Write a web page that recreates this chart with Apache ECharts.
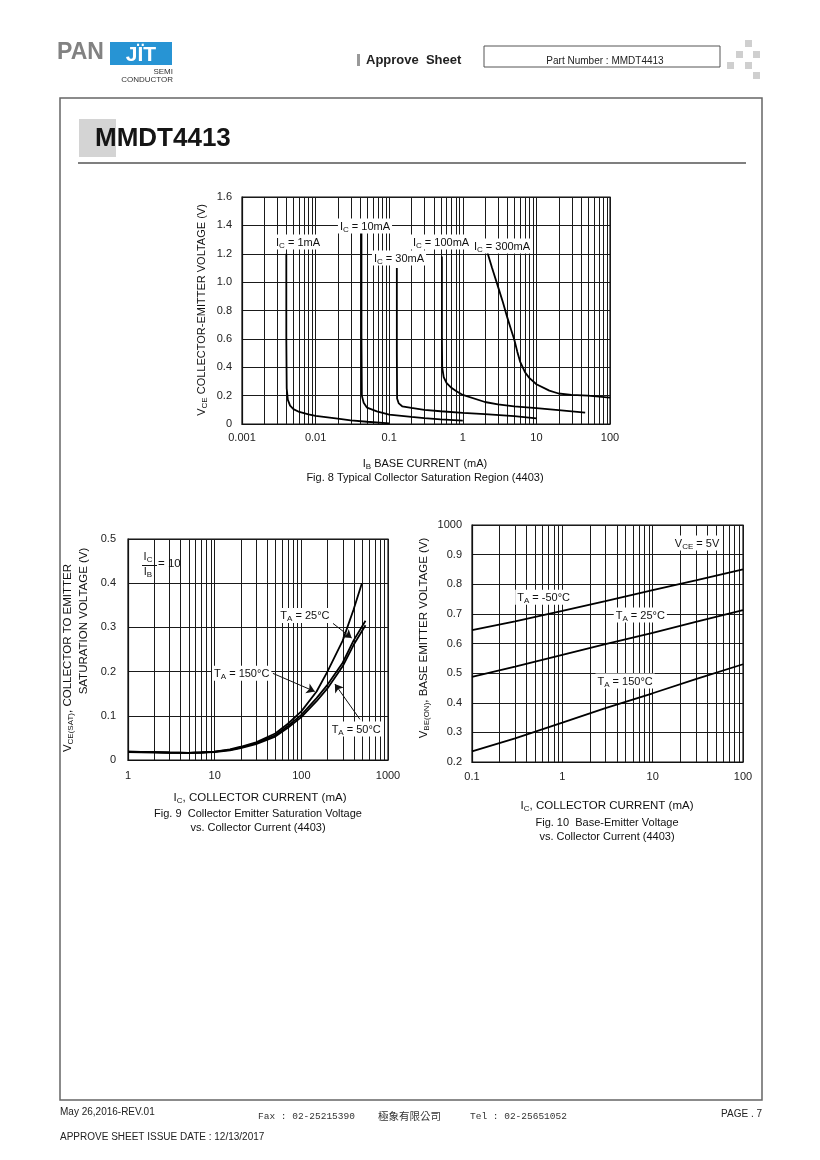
<!DOCTYPE html>
<html><head><meta charset="utf-8">
<script src="https://cdn.jsdelivr.net/npm/echarts@6/dist/echarts.min.js"></script>
<style>html,body{margin:0;padding:0;background:#fff}#c{width:820px;height:1160px}</style>
</head><body><div id="c"></div>
<script>
// ---------------- DATA ----------------
// Fig. 8  VCE vs IB  (x: IB mA, y: VCE V)
const fig8XLabels = ['0.001','0.01','0.1','1','10','100'];
const fig8YLabels = ['0','0.2','0.4','0.6','0.8','1.0','1.2','1.4','1.6'];
const ic1mA   = [[0.004,1.2],[0.004,0.6],[0.00405,0.25],[0.0042,0.17],[0.0045,0.13],[0.005,0.105],[0.006,0.085],[0.008,0.068],[0.01,0.058],[0.02,0.038],[0.03,0.026],[0.05,0.016],[0.1,0.005]];
const ic10mA  = [[0.042,1.38],[0.042,0.6],[0.0425,0.2],[0.045,0.15],[0.05,0.115],[0.068,0.089],[0.1,0.066],[0.2,0.05],[0.3,0.042],[0.5,0.032],[1,0.024]];
const ic30mA  = [[0.127,1.1],[0.127,0.5],[0.128,0.18],[0.135,0.145],[0.15,0.125],[0.2,0.113],[0.3,0.1],[0.5,0.09],[1,0.078],[2,0.07],[5,0.055],[10,0.04]];
const ic100mA = [[0.52,1.18],[0.52,0.6],[0.525,0.4],[0.55,0.33],[0.6,0.29],[0.7,0.255],[0.8,0.235],[1,0.205],[2,0.155],[3,0.138],[5,0.124],[10,0.112],[20,0.098],[46,0.08]];
const ic300mA = [[2.1,1.23],[2.5,1.1],[3,0.97],[3.5,0.86],[4,0.755],[4.5,0.67],[5,0.595],[5.5,0.51],[6,0.44],[7,0.365],[8,0.325],[10,0.28],[15,0.235],[20,0.215],[30,0.205],[50,0.2],[100,0.186]];
const fig8Labels = [
  {name:'1mA',   at:[0.00577,1.283]},
  {name:'10mA',  at:[0.0469,1.395]},
  {name:'30mA',  at:[0.136,1.17]},
  {name:'100mA', at:[0.506,1.283]},
  {name:'300mA', at:[3.41,1.254]}
];

// Fig. 9  VCE(SAT) vs IC  (x: IC mA, y: V)
const fig9XLabels = ['1','10','100','1000'];
const fig9YLabels = ['0','0.1','0.2','0.3','0.4','0.5'];
const vsat150 = [[1,0.019],[2,0.018],[3,0.017],[5,0.016],[7,0.017],[10,0.019],[15,0.024],[20,0.03],[30,0.04],[50,0.06],[70,0.082],[100,0.11],[150,0.155],[200,0.2],[300,0.27],[400,0.34],[500,0.4]];
const vsat25  = [[1,0.019],[2,0.018],[3,0.017],[5,0.016],[7,0.017],[10,0.019],[15,0.023],[20,0.028],[30,0.038],[50,0.056],[70,0.077],[100,0.102],[150,0.14],[200,0.17],[300,0.22],[400,0.27],[550,0.315]];
const vsatM50 = [[1,0.018],[2,0.017],[3,0.016],[5,0.016],[7,0.017],[10,0.018],[15,0.022],[20,0.027],[30,0.036],[50,0.053],[70,0.073],[100,0.097],[150,0.133],[200,0.162],[300,0.212],[400,0.26],[550,0.305]];
const fig9Labels = [
  {temp:'25°C',  at:[110,0.327]},
  {temp:'150°C', at:[20.5,0.196]},
  {temp:'50°C',  at:[430,0.07]}
];
const fig9Arrows = [
  [[232,0.309],[381,0.276]],
  [[47,0.196],[143,0.155]],
  [[474,0.092],[244,0.172]]
];

// Fig. 10  VBE(ON) vs IC  (x: IC mA, y: V)
const fig10XLabels = ['0.1','1','10','100'];
const fig10YLabels = ['0.2','0.3','0.4','0.5','0.6','0.7','0.8','0.9','1000'];
const vbeM50 = [[0.1,0.645],[0.3,0.675],[1,0.71],[3,0.743],[10,0.78],[30,0.813],[100,0.85]];
const vbe25  = [[0.1,0.487],[0.3,0.522],[1,0.562],[3,0.598],[10,0.636],[30,0.673],[100,0.713]];
const vbe150 = [[0.1,0.236],[0.3,0.28],[1,0.333],[3,0.382],[10,0.432],[30,0.48],[100,0.53]];
const fig10Labels = [
  {pre:'T', sub:'A', post:' = -50°C', at:[0.62,0.756]},
  {pre:'T', sub:'A', post:' = 25°C',  at:[7.3,0.696]},
  {pre:'T', sub:'A', post:' = 150°C', at:[4.95,0.473]},
  {pre:'V', sub:'CE', post:' = 5V',   at:[31,0.939]}
];

// ---------------- HELPERS ----------------
const FONT = '"Liberation Sans", Arial, sans-serif';
function sub(pre, s, post){ return '{t|' + pre + '}{s|' + s + '}{t|' + post + '}'; }
function richFor(size){
  return {
    t:{fontSize:size, fontFamily:FONT, color:'#111'},
    s:{fontSize:Math.round(size*0.72), fontFamily:FONT, color:'#111', padding:[Math.round(size*0.55),0,0,0]}
  };
}
function minorValues(lo, hi){
  const out = [];
  for (let d = lo; d < hi*0.999; d *= 10) for (let k = 2; k <= 9; k++) out.push(+(k*d).toPrecision(3));
  return out;
}
function logLabel(arr, base){ return v => arr[Math.round(Math.log10(v) - Math.log10(base))] || ''; }
function linLabel(arr, min, step){ return v => arr[Math.round((v - min)/step)] || ''; }

const gridLine = {show:true, lineStyle:{color:'#1a1a1a', width:1}};
const axisLbl = (fmt, margin) => ({fontSize:11, fontFamily:FONT, color:'#222', formatter:fmt, margin:margin});
function xLog(gi, min, max, labels, margin){
  return {type:'log', logBase:10, gridIndex:gi, min:min, max:max,
    axisLine:{show:true, lineStyle:{color:'#111', width:1.2}}, axisTick:{show:false},
    splitLine:gridLine, axisLabel:axisLbl(logLabel(labels, min), margin)};
}
function yLin(gi, min, max, step, labels, margin){
  return {type:'value', gridIndex:gi, min:min, max:max, interval:step,
    axisLine:{show:true, lineStyle:{color:'#111', width:1.2}}, axisTick:{show:false},
    splitLine:gridLine, axisLabel:axisLbl(linLabel(labels, min, step), margin)};
}
// minor vertical grid lines (2..9 per decade) drawn through the axis scales
function minorGrid(gi, lo, hi, ymin, ymax){
  return {type:'custom', xAxisIndex:gi, yAxisIndex:gi, silent:true, z:1, clip:true,
    data: minorValues(lo, hi).map(v => [v, ymin, ymax]),
    encode:{x:0, y:[1,2]},
    renderItem:function(params, api){
      const a = api.coord([api.value(0), api.value(1)]);
      const b = api.coord([api.value(0), api.value(2)]);
      const x = Math.round(a[0]) + 0.5;
      return {type:'line', shape:{x1:x, y1:a[1], x2:x, y2:b[1]}, style:{stroke:'#1a1a1a', lineWidth:1}};
    }};
}
const curveStyle = {color:'#000', width:1.8};
function curve(gi, data, extra){
  return Object.assign({type:'line', xAxisIndex:gi, yAxisIndex:gi, data:data, showSymbol:false,
    symbol:'none', lineStyle:curveStyle, z:3, silent:true}, extra||{});
}
function labelPoints(items){
  return {symbol:'rect', symbolSize:0.1, silent:true, animation:false, z:6,
    itemStyle:{color:'rgba(0,0,0,0)'},
    data: items.map(it => ({coord:it.at, label:{show:true, position:'inside', formatter:it.text,
      backgroundColor:'#fff', padding:[1,2,0,2], rich:richFor(11)}}))};
}

// ---------------- CHART ----------------
const chart = echarts.init(document.getElementById('c'), null, {renderer:'canvas'});

const g = [];
function txt(x, y, text, o){
  o = o || {};
  g.push({type:'text', x:x, y:y, rotation:o.rot||0, z:10, silent:true,
    style:{text:text, fontSize:o.size||11, fontFamily:o.font||FONT, fontWeight:o.weight||'normal',
      fill:o.fill||'#111', align:o.align||'left', verticalAlign:'middle',
      textAlign:o.align||'left', textVerticalAlign:'middle', rich:o.rich}});
}
function rect(x, y, w, h, o){
  g.push({type:'rect', z:o.z||1, silent:true, shape:{x:x, y:y, width:w, height:h},
    style:{fill:o.fill||'none', stroke:o.stroke||'none', lineWidth:o.lw||1}});
}
function line(x1, y1, x2, y2, o){
  g.push({type:'line', z:o.z||1, silent:true, shape:{x1:x1, y1:y1, x2:x2, y2:y2},
    style:{stroke:o.stroke||'#000', lineWidth:o.lw||1}});
}

// header
txt(57, 53, 'PAN', {size:23, weight:'bold', fill:'#828282'});
rect(110, 42, 62, 23, {fill:'#2794d4'});
txt(141, 55, 'JÏT', {size:21, weight:'bold', fill:'#fff', align:'center'});
txt(173, 72, 'SEMI', {size:8, align:'right', fill:'#333'});
txt(173, 80, 'CONDUCTOR', {size:8, align:'right', fill:'#333'});
rect(357, 54, 3, 12, {fill:'#999'});
txt(366, 60, 'Approve  Sheet', {size:13, weight:'bold', fill:'#222'});
rect(484, 46, 236, 21, {stroke:'#555', lw:1});
txt(605, 61, 'Part Number : MMDT4413', {size:10, align:'center', fill:'#222'});
[[745,40],[736,51],[753,51],[727,62],[745,62],[753,72]].forEach(p => rect(p[0], p[1], 7, 7, {fill:'#cfcfcf'}));
// frame & title
rect(60, 98, 702, 1002, {stroke:'#666', lw:1.5});
rect(79, 119, 37, 38, {fill:'#d4d4d4'});
txt(95, 139, 'MMDT4413', {size:26, weight:'bold', fill:'#151515'});
line(78, 163, 746, 163, {stroke:'#555', lw:1.5});
// footer
txt(60, 1112, 'May 26,2016-REV.01', {size:10, fill:'#222'});
txt(258, 1116, 'Fax : 02-25215390', {size:9.5, font:'"Liberation Mono", monospace', fill:'#333'});
txt(378, 1116, '極象有限公司', {size:10.5, font:'"Noto Sans CJK TC", sans-serif', fill:'#333'});
txt(470, 1116, 'Tel : 02-25651052', {size:9.5, font:'"Liberation Mono", monospace', fill:'#333'});
txt(762, 1114, 'PAGE . 7', {size:10, align:'right', fill:'#222'});
txt(60, 1137, 'APPROVE SHEET ISSUE DATE : 12/13/2017', {size:10, fill:'#222'});

// figure titles
const R11 = richFor(11), R12 = richFor(11.5);
txt(202, 310, sub('V','CE',' COLLECTOR-EMITTER VOLTAGE (V)'), {rot:Math.PI/2, align:'center', rich:R11});
txt(425, 464, sub('I','B',' BASE CURRENT (mA)'), {align:'center', rich:R11});
txt(425, 478, 'Fig. 8 Typical Collector Saturation Region (4403)', {size:11, align:'center'});

txt(68, 658, sub('V','CE(SAT)',', COLLECTOR TO EMITTER'), {rot:Math.PI/2, align:'center', rich:R12});
txt(84, 621, 'SATURATION VOLTAGE (V)', {rot:Math.PI/2, align:'center', size:11.5});
txt(260, 798, sub('I','C',', COLLECTOR CURRENT (mA)'), {align:'center', rich:R12});
txt(258, 814, 'Fig. 9  Collector Emitter Saturation Voltage', {size:11, align:'center'});
txt(258, 828, 'vs. Collector Current (4403)', {size:11, align:'center'});
// IC/IB = 10
txt(148, 557, sub('I','C',''), {align:'center', rich:R11});
line(142, 565.5, 157, 565.5, {stroke:'#111', lw:1, z:10});
txt(148, 572, sub('I','B',''), {align:'center', rich:R11});
txt(158, 564, '= 10', {size:11.5});

txt(424, 638, sub('V','BE(ON)',', BASE EMITTER VOLTAGE (V)'), {rot:Math.PI/2, align:'center', rich:R12});
txt(607, 806, sub('I','C',', COLLECTOR CURRENT (mA)'), {align:'center', rich:R12});
txt(607, 823, 'Fig. 10  Base-Emitter Voltage', {size:11, align:'center'});
txt(607, 837, 'vs. Collector Current (4403)', {size:11, align:'center'});

const option = {
  animation:false,
  backgroundColor:'#fff',
  textStyle:{fontFamily:FONT},
  grid:[
    {left:242, top:197, width:368, height:227, show:true, borderColor:'#111', borderWidth:1.2, backgroundColor:'#fff'},
    {left:128, top:539, width:260, height:221, show:true, borderColor:'#111', borderWidth:1.2, backgroundColor:'#fff'},
    {left:472, top:525, width:271, height:237, show:true, borderColor:'#111', borderWidth:1.2, backgroundColor:'#fff'}
  ],
  xAxis:[
    xLog(0, 0.001, 100, fig8XLabels, 8),
    xLog(1, 1, 1000, fig9XLabels, 10),
    xLog(2, 0.1, 100, fig10XLabels, 9)
  ],
  yAxis:[
    yLin(0, 0, 1.6, 0.2, fig8YLabels, 10),
    yLin(1, 0, 0.5, 0.1, fig9YLabels, 12),
    yLin(2, 0.2, 1.0, 0.1, fig10YLabels, 10)
  ],
  series:[
    minorGrid(0, 0.001, 100, 0, 1.6),
    minorGrid(1, 1, 1000, 0, 0.5),
    minorGrid(2, 0.1, 100, 0.2, 1.0),
    curve(0, ic1mA, {markPoint:labelPoints(fig8Labels.map(l => ({at:l.at, text:sub('I','C',' = ' + l.name)})))}),
    curve(0, ic10mA), curve(0, ic30mA), curve(0, ic100mA), curve(0, ic300mA),
    curve(1, vsat150, {markPoint:labelPoints(fig9Labels.map(l => ({at:l.at, text:sub('T','A',' = ' + l.temp)})))}),
    curve(1, vsat25, {markLine:{silent:true, animation:false, symbol:['none','arrow'], symbolSize:8,
      label:{show:false}, lineStyle:{color:'#111', width:1, type:'solid'}, itemStyle:{color:'#111'},
      data: fig9Arrows.map(a => [{coord:a[0]},{coord:a[1]}])}}),
    curve(1, vsatM50),
    curve(2, vbeM50, {markPoint:labelPoints(fig10Labels.map(l => ({at:l.at, text:sub(l.pre, l.sub, l.post)})))}),
    curve(2, vbe25), curve(2, vbe150)
  ],
  graphic:g
};
chart.setOption(option);
</script>
</body></html>
